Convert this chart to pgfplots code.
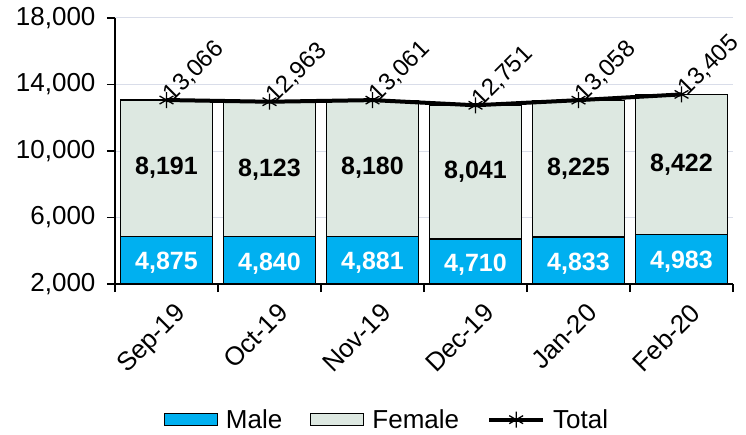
\documentclass[border=0pt]{standalone}
\usepackage{pgfplots}
\pgfplotsset{compat=1.18}
\usepackage{fontspec}
\setmainfont{Liberation Sans}

\definecolor{maleblue}{RGB}{0,176,240}
\definecolor{femalegreen}{RGB}{221,232,225}
\definecolor{gridc}{RGB}{217,221,233}

\pgfplotsset{
    boxlegend/.style={legend image code/.code={\draw[##1] (0pt,-6pt) rectangle (53pt,6pt);}},
    linelegend/.style={legend image code/.code={\draw[mark repeat=2, mark phase=2, ##1]
        plot coordinates {(0pt,0pt) (27pt,0pt) (54pt,0pt)};}},
}

% x, male, female, total, label heights (middle of the visible segments)
\pgfplotstableread{
x male female total malemid femalemid
0 4875 8191 13066 3437.5 8970.5
1 4840 8123 12963 3420.0 8901.5
2 4881 8180 13061 3440.5 8971.0
3 4710 8041 12751 3355.0 8730.5
4 4833 8225 13058 3416.5 8945.5
5 4983 8422 13405 3491.5 9194.0
}\data

\begin{document}
\begin{tikzpicture}
\path[use as bounding box] (0,0) rectangle (746pt,434pt);
\begin{axis}[
    at={(115pt,150pt)}, anchor=south west,
    width=618pt, height=266pt, scale only axis,
    xmin=-0.5, xmax=5.5,
    ymin=2000, ymax=18000,
    ytick={2000,6000,...,18000},
    scaled y ticks=false,
    axis lines=left,
    axis line style={-, line width=1.2pt, black},
    ymajorgrids,
    grid style={gridc, line width=1pt},
    xtick={-0.5,0.5,...,5.5},
    xticklabels={},
    extra x ticks={0,1,2,3,4,5},
    extra x tick labels={Sep-19,Oct-19,Nov-19,Dec-19,Jan-20,Feb-20},
    extra x tick style={major tick length=0pt,
        tick label style={rotate=45, anchor=north east, xshift=-4pt, yshift=-14pt,
            font=\fontsize{26}{31}\selectfont}},
    tick align=outside,
    major tick length=8pt,
    tick style={black, line width=1.2pt},
    font=\fontsize{26}{31}\selectfont,
    tick label style={font=\fontsize{26}{31}\selectfont},
    yticklabel style={xshift=-8pt},
    /pgf/number format/assume math mode=true,
    legend columns=3,
    legend style={draw=none, fill=none, at={(0.44,-0.51)}, anchor=center,
        font=\fontsize{26}{31}\selectfont,
        /tikz/every odd column/.append style={column sep=6pt},
        /tikz/every even column/.append style={column sep=26pt},
        cells={anchor=west}, inner sep=0pt},
]
\addlegendimage{fill=maleblue, draw=black, line width=1.2pt, boxlegend}
\addlegendentry{Male}
\addlegendimage{fill=femalegreen, draw=black, line width=1.2pt, boxlegend}
\addlegendentry{Female}

% female bar drawn to the total, male bar over it
\addplot[ybar, bar width=0.89, bar shift=0pt, fill=femalegreen, draw=black,
    line width=1.2pt, forget plot] table[x=x, y=total]{\data};
\addplot[ybar, bar width=0.89, bar shift=0pt, fill=maleblue, draw=black,
    line width=1.2pt, forget plot] table[x=x, y=male]{\data};

% segment labels
\addplot[draw=none, forget plot, nodes near coords, point meta=explicit,
    nodes near coords style={anchor=center, text=white, yshift=-3pt,
        font=\fontsize{25}{30}\selectfont\bfseries}]
    table[x=x, y=malemid, meta=male]{\data};
\addplot[draw=none, forget plot, nodes near coords, point meta=explicit,
    nodes near coords style={anchor=center, text=black,
        font=\fontsize{25}{30}\selectfont\bfseries}]
    table[x=x, y=femalemid, meta=female]{\data};

% total line
\addplot[black, line width=4pt, mark=asterisk,
    mark options={line width=1.3pt, solid},
    mark size=8pt,
    nodes near coords, point meta=explicit,
    nodes near coords style={rotate=45, anchor=west, xshift=-1pt, yshift=1pt,
        font=\fontsize{24}{29}\selectfont},
    linelegend]
    table[x=x, y=total, meta=total]{\data};
\addlegendentry{Total}
\end{axis}
\end{tikzpicture}
\end{document}
